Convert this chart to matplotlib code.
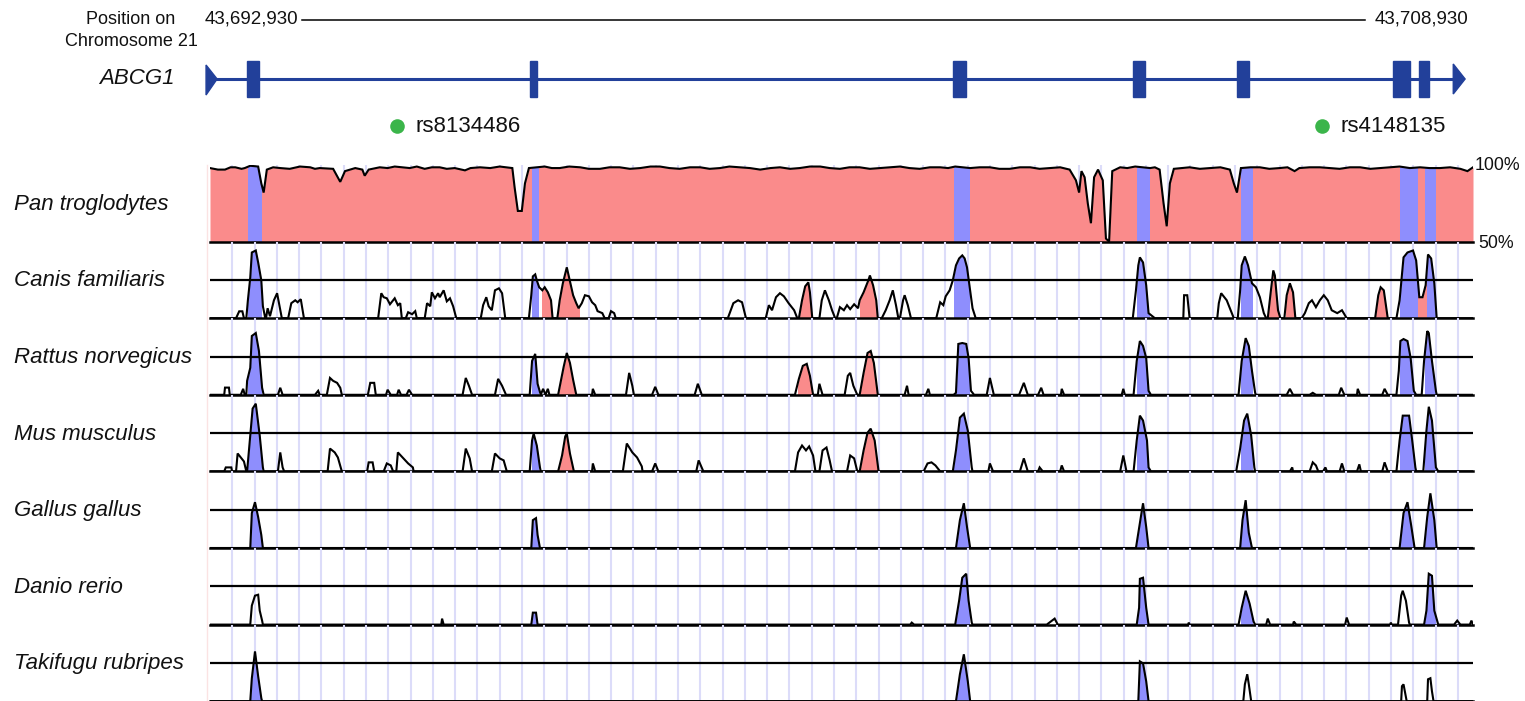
import matplotlib
matplotlib.use("Agg")
import matplotlib.pyplot as plt
from matplotlib.patches import Rectangle, Polygon

plt.rcParams['font.family'] = ['Liberation Sans', 'DejaVu Sans']

W, H = 1525, 701

# positions in kb from 43,692,930
start_label = "43,692,930"
end_label = "43,708,930"
region_kb = 16.0

# gene model of ABCG1 (kb)
gene_span = (-0.05, 15.90)
gene_exons = [(0.47, 0.62), (4.05, 4.14), (9.41, 9.58), (11.69, 11.84),
              (13.01, 13.16), (14.99, 15.20), (15.32, 15.44)]

snp_pos = [2.37, 14.09]
snp_names = ["rs8134486", "rs4148135"]

# exon columns in the conservation tracks (kb)
exon_cols = [(0.48, 0.65), (4.08, 4.15), (9.42, 9.61), (11.74, 11.89),
             (13.06, 13.20), (15.07, 15.29), (15.39, 15.52)]

species = ["Pan troglodytes", "Canis familiaris", "Rattus norvegicus",
           "Mus musculus", "Gallus gallus", "Danio rerio", "Takifugu rubripes"]

# % identity, (kb, pct) vertices; below 50% sits on the baseline
pan = [(0.00, 98), (0.10, 97), (0.19, 97), (0.26, 98.5), (0.32, 98.5), (0.40, 97.5),
       (0.44, 98), (0.51, 99.5), (0.61, 99), (0.65, 88), (0.68, 82), (0.72, 97),
       (0.80, 98.5), (0.89, 98), (1.01, 97.5), (1.14, 99), (1.27, 98.5), (1.33, 97.5),
       (1.39, 98), (1.56, 97.5), (1.65, 89), (1.71, 96), (1.84, 98), (1.93, 97),
       (1.96, 93), (2.01, 97), (2.15, 98.5), (2.25, 98), (2.34, 99), (2.43, 98.5),
       (2.53, 98), (2.62, 99), (2.72, 97.5), (2.81, 98.5), (2.91, 98.5), (3.00, 97.5),
       (3.10, 98), (3.23, 96.5), (3.30, 98), (3.42, 98.5), (3.55, 98), (3.67, 99),
       (3.83, 98), (3.86, 85), (3.90, 70), (3.95, 70), (3.99, 88), (4.04, 98),
       (4.14, 98.5), (4.24, 99), (4.33, 98), (4.43, 98), (4.55, 99), (4.69, 98.5),
       (4.80, 97.5), (4.94, 97.5), (5.06, 98.5), (5.19, 98.5), (5.32, 97.5),
       (5.45, 98), (5.58, 99), (5.70, 99), (5.82, 98), (5.95, 97.5), (6.08, 98.5),
       (6.21, 98.5), (6.33, 97.5), (6.46, 98), (6.58, 99), (6.71, 98.5), (6.84, 98),
       (6.97, 97), (7.10, 98), (7.22, 98.5), (7.35, 97.5), (7.47, 98), (7.60, 99),
       (7.73, 99), (7.85, 98), (7.98, 97.5), (8.10, 98.5), (8.23, 98.5), (8.36, 97.5),
       (8.49, 98), (8.61, 98.5), (8.74, 99), (8.86, 98), (8.99, 97.5), (9.12, 98.5),
       (9.25, 98.5), (9.35, 98), (9.44, 99), (9.53, 98.5), (9.63, 98), (9.75, 98.5),
       (9.88, 98.5), (10.00, 97.5), (10.13, 97.5), (10.26, 98.5), (10.39, 98.5),
       (10.51, 97.5), (10.64, 98), (10.77, 98.5), (10.89, 97), (10.97, 90),
       (11.01, 82), (11.04, 96), (11.08, 92), (11.12, 75), (11.16, 62), (11.20, 92),
       (11.25, 97), (11.31, 90), (11.35, 52), (11.39, 50), (11.43, 96), (11.53, 98.5),
       (11.62, 98), (11.72, 99), (11.82, 98.5), (11.91, 98), (11.97, 98.5), (12.03, 97),
       (12.08, 75), (12.12, 60), (12.16, 88), (12.21, 97.5), (12.31, 98), (12.41, 98.5),
       (12.54, 97.5), (12.67, 98), (12.80, 98.5), (12.92, 97), (12.97, 88), (13.01, 82),
       (13.06, 98), (13.18, 98.5), (13.30, 98.5), (13.42, 97.5), (13.55, 98),
       (13.65, 98.5), (13.74, 96), (13.80, 98), (13.93, 98.5), (14.06, 98.5),
       (14.18, 98), (14.31, 97.5), (14.44, 98.5), (14.57, 98.5), (14.70, 97.5),
       (14.82, 98), (14.95, 98.5), (15.07, 99), (15.20, 98), (15.33, 98.5), (15.45, 98),
       (15.58, 98), (15.71, 98.5), (15.84, 97.5), (15.93, 96), (16.00, 98.5)]

canis = [(0.00, 50), (0.33, 50), (0.37, 54.5), (0.41, 54.5), (0.43, 50),
         (0.46, 50), (0.48, 61.7), (0.51, 76.6), (0.53, 92.9), (0.58, 94.2), (0.61, 86.4),
         (0.65, 74.7), (0.67, 57.8), (0.70, 50), (0.71, 50), (0.73, 56.5), (0.76, 51.3),
         (0.81, 61.7), (0.85, 66.3), (0.89, 55.2), (0.91, 50),
         (0.99, 50), (1.03, 59.8), (1.08, 61.7), (1.11, 60.4), (1.15, 62.4), (1.19, 50),
         (2.13, 50), (2.17, 66.3), (2.20, 63.7), (2.24, 63), (2.28, 59.1), (2.32, 61.7),
         (2.34, 63), (2.38, 58.5), (2.41, 59.8), (2.43, 50),
         (2.48, 50), (2.51, 53.9), (2.56, 52.6), (2.60, 54.6), (2.62, 50),
         (2.72, 50), (2.75, 59.8), (2.79, 57.8), (2.81, 66.9), (2.85, 63), (2.89, 66.3),
         (2.91, 63.7), (2.96, 68.2), (3.00, 61), (3.04, 63), (3.08, 57.8), (3.12, 50),
         (3.43, 50), (3.46, 58.5), (3.50, 63.7), (3.53, 57.8), (3.57, 55.2), (3.61, 68.2),
         (3.66, 69.5), (3.70, 66.3), (3.74, 50),
         (4.04, 50), (4.07, 65), (4.09, 77.3), (4.12, 78.6), (4.14, 74.7), (4.17, 70.2),
         (4.21, 68.2), (4.24, 70.2), (4.28, 66.9), (4.32, 61.7), (4.34, 50),
         (4.40, 50), (4.43, 61.7), (4.47, 72.8), (4.52, 83.2), (4.56, 74), (4.60, 65),
         (4.64, 59.8), (4.67, 56.5), (4.71, 59.8), (4.75, 65), (4.80, 64.3), (4.84, 60.4),
         (4.88, 58.5), (4.91, 54.6), (4.97, 53.3), (5.00, 50),
         (5.05, 50), (5.08, 54.6), (5.12, 53.3), (5.14, 50),
         (6.56, 50), (6.63, 59.8), (6.69, 61.7), (6.74, 60.4), (6.79, 50),
         (7.04, 50), (7.08, 58.5), (7.12, 55.2), (7.17, 63.7), (7.22, 66.3), (7.27, 64.3),
         (7.33, 59.8), (7.40, 55.2), (7.44, 50),
         (7.46, 50), (7.50, 61.7), (7.54, 70.8), (7.58, 73.4), (7.60, 66.9), (7.63, 50),
         (7.72, 50), (7.75, 61.7), (7.79, 68.2), (7.84, 61.7), (7.88, 55.2), (7.92, 50),
         (7.94, 50), (7.98, 57.2), (8.03, 55.2), (8.07, 58.5), (8.11, 55.9), (8.16, 59.1),
         (8.21, 56.5), (8.23, 61.7), (8.28, 66.9), (8.34, 74.7), (8.36, 77.9), (8.40, 71.5),
         (8.44, 61.7), (8.46, 50),
         (8.51, 50), (8.56, 55.2), (8.61, 61.7), (8.65, 68.2), (8.69, 58.5), (8.72, 50),
         (8.74, 50), (8.78, 61.7), (8.80, 65), (8.84, 58.5), (8.88, 50),
         (9.20, 50), (9.25, 60.4), (9.29, 58.5), (9.32, 64.3), (9.37, 68.2), (9.41, 74.7),
         (9.45, 84.5), (9.49, 89), (9.53, 91), (9.56, 89), (9.59, 83.2), (9.63, 68.2),
         (9.66, 56.5), (9.70, 50),
         (11.69, 50), (11.73, 68.2), (11.76, 84.5), (11.78, 89.7), (11.82, 86.4),
         (11.86, 71.5), (11.89, 53.3), (11.97, 50),
         (12.33, 50), (12.34, 65), (12.38, 65), (12.41, 50),
         (12.76, 50), (12.78, 59.8), (12.81, 66.3), (12.84, 64.3), (12.88, 61.7),
         (12.93, 55.2), (12.97, 50),
         (13.02, 50), (13.05, 68.2), (13.07, 84.5), (13.11, 90.3), (13.15, 84.5),
         (13.20, 72.8), (13.25, 70.2), (13.30, 63.7), (13.35, 53.3), (13.38, 50),
         (13.40, 50), (13.44, 68.2), (13.47, 81.2), (13.49, 77.9), (13.53, 55.2), (13.56, 50),
         (13.61, 50), (13.64, 65), (13.68, 72.8), (13.72, 66.9), (13.75, 50),
         (13.83, 50), (13.87, 53.3), (13.92, 59.8), (13.96, 61.7), (14.01, 57.2),
         (14.06, 61.7), (14.11, 65), (14.16, 61.7), (14.21, 55.2), (14.28, 53.3),
         (14.34, 55.2), (14.40, 50),
         (14.76, 50), (14.80, 65), (14.83, 70.2), (14.87, 68.2), (14.92, 50),
         (15.03, 50), (15.07, 61.7), (15.12, 89.7), (15.17, 92.9), (15.24, 94.2),
         (15.28, 87.7), (15.32, 63.7), (15.36, 63.7), (15.40, 71.5), (15.43, 91.6),
         (15.47, 89), (15.51, 72.8), (15.54, 50), (16.00, 50)]

rattus = [(0.00, 50), (0.18, 50), (0.19, 54.7), (0.24, 54.7), (0.25, 50),
          (0.39, 50), (0.42, 53.9), (0.44, 50),
          (0.46, 50), (0.47, 59.1), (0.51, 67.6), (0.53, 88.4), (0.58, 90.3), (0.62, 78.6),
          (0.66, 54.6), (0.68, 50),
          (0.86, 50), (0.89, 54.6), (0.92, 50), (1.33, 50), (1.37, 52.6), (1.39, 50),
          (1.48, 50), (1.52, 61), (1.56, 59.1), (1.61, 57.8), (1.65, 54.6), (1.67, 50),
          (2.00, 50), (2.03, 57.8), (2.08, 57.8), (2.10, 50),
          (2.23, 50), (2.25, 53.3), (2.29, 50), (2.37, 50), (2.39, 53.3), (2.42, 50),
          (2.49, 50), (2.52, 53.3), (2.56, 50),
          (3.20, 50), (3.24, 61), (3.28, 55.9), (3.32, 50),
          (3.61, 50), (3.65, 60.4), (3.70, 55.9), (3.75, 50),
          (4.05, 50), (4.08, 72.1), (4.12, 76.7), (4.15, 57.2), (4.19, 50), (4.22, 53.9),
          (4.25, 50), (4.28, 53.9), (4.30, 50),
          (4.41, 50), (4.44, 57.8), (4.48, 68.2), (4.52, 77.3), (4.56, 70.8), (4.60, 59.8),
          (4.64, 50),
          (4.84, 50), (4.85, 53.9), (4.88, 50),
          (5.27, 50), (5.31, 64.3), (5.35, 55.9), (5.37, 50),
          (5.60, 50), (5.64, 55.2), (5.68, 50), (6.14, 50), (6.18, 57.2), (6.23, 50),
          (7.41, 50), (7.46, 60.4), (7.51, 68.9), (7.56, 70.2), (7.60, 62.4), (7.64, 50),
          (7.70, 50), (7.72, 57.2), (7.76, 50),
          (8.04, 50), (8.08, 62.4), (8.11, 64.3), (8.15, 55.9), (8.20, 50),
          (8.23, 50), (8.28, 64.3), (8.33, 77.3), (8.37, 78.6), (8.41, 70.8), (8.46, 50),
          (8.80, 50), (8.83, 55.9), (8.85, 50), (9.07, 50), (9.10, 53.9), (9.12, 50),
          (9.42, 50), (9.45, 51.3), (9.48, 83.2), (9.53, 83.8), (9.58, 83.2), (9.61, 74),
          (9.64, 52.6), (9.68, 50),
          (9.84, 50), (9.88, 61), (9.93, 50), (10.25, 50), (10.31, 57.8), (10.36, 50),
          (10.49, 50), (10.53, 54.6), (10.56, 50), (10.78, 50), (10.79, 53.9), (10.82, 50),
          (11.55, 50), (11.57, 53.9), (11.59, 50),
          (11.70, 50), (11.74, 72.1), (11.78, 85.1), (11.82, 81.9), (11.86, 74),
          (11.89, 52.6), (11.92, 50),
          (13.03, 50), (13.07, 72.1), (13.12, 87), (13.16, 81.9), (13.20, 65.6),
          (13.24, 51.3), (13.25, 50),
          (13.64, 50), (13.68, 53.9), (13.72, 50), (13.93, 50), (13.97, 51.3), (14.01, 50),
          (14.30, 50), (14.33, 54.6), (14.37, 50), (14.53, 50), (14.54, 53.9), (14.57, 50),
          (14.85, 50), (14.88, 53.9), (14.92, 50),
          (15.03, 50), (15.06, 65.6), (15.08, 85.1), (15.12, 86.4), (15.17, 85.1),
          (15.21, 74), (15.25, 52.6), (15.28, 50),
          (15.35, 50), (15.38, 72.1), (15.42, 91.6), (15.44, 90.3), (15.48, 72.1),
          (15.53, 52.6), (15.54, 50), (16.00, 50)]

mus = [(0.00, 50), (0.18, 50), (0.20, 52.6), (0.27, 52.6), (0.28, 50),
       (0.33, 50), (0.35, 61.7), (0.39, 59.1), (0.43, 56.5), (0.46, 50),
       (0.47, 50), (0.51, 73.4), (0.54, 91), (0.58, 94.2), (0.63, 73.4), (0.67, 52.6),
       (0.68, 50),
       (0.86, 50), (0.89, 62.4), (0.92, 52.6), (0.94, 50),
       (1.49, 50), (1.52, 64.9), (1.58, 62.4), (1.62, 59.1), (1.67, 50),
       (1.99, 50), (2.01, 55.9), (2.06, 55.9), (2.08, 50),
       (2.20, 50), (2.24, 55.2), (2.29, 53.9), (2.32, 50),
       (2.36, 50), (2.38, 62.4), (2.44, 59.1), (2.51, 55.2), (2.57, 52.6), (2.58, 50),
       (3.20, 50), (3.24, 64.9), (3.29, 58.5), (3.32, 50),
       (3.57, 50), (3.61, 61.7), (3.67, 58.5), (3.72, 57.2), (3.76, 50),
       (4.05, 50), (4.08, 70.2), (4.10, 74.7), (4.14, 66.9), (4.18, 52.6), (4.19, 50),
       (4.41, 50), (4.46, 60.4), (4.50, 72.8), (4.52, 74.7), (4.56, 61.7), (4.61, 50),
       (4.84, 50), (4.85, 55.2), (4.88, 50),
       (5.23, 50), (5.28, 68.2), (5.35, 62.4), (5.41, 59.1), (5.47, 53.3), (5.48, 50),
       (5.60, 50), (5.64, 55.2), (5.68, 50), (6.16, 50), (6.19, 57.2), (6.25, 50),
       (7.41, 50), (7.45, 62.4), (7.50, 66.9), (7.55, 63.7), (7.59, 66.3), (7.64, 60.4),
       (7.67, 50),
       (7.72, 50), (7.76, 63.7), (7.81, 65.6), (7.85, 57.2), (7.88, 50),
       (8.07, 50), (8.11, 60.4), (8.16, 58.5), (8.20, 50),
       (8.23, 50), (8.28, 63.7), (8.33, 75.3), (8.37, 77.9), (8.42, 70.2), (8.47, 50),
       (9.04, 50), (9.09, 55.2), (9.14, 55.9), (9.19, 53.9), (9.25, 50),
       (9.41, 50), (9.45, 63.7), (9.50, 85.1), (9.55, 87.7), (9.60, 76.6), (9.65, 52.6),
       (9.66, 50),
       (9.86, 50), (9.88, 55.2), (9.92, 50), (10.26, 50), (10.31, 58.5), (10.36, 50),
       (10.49, 50), (10.51, 52.6), (10.55, 50), (10.77, 50), (10.79, 53.9), (10.82, 50),
       (11.53, 50), (11.57, 60.4), (11.61, 50),
       (11.70, 50), (11.74, 70.2), (11.78, 86.4), (11.82, 83.2), (11.87, 70.2),
       (11.89, 52.6), (11.92, 50),
       (13.00, 50), (13.05, 64.9), (13.10, 83.2), (13.14, 87.7), (13.19, 73.4),
       (13.23, 52.6), (13.24, 50),
       (13.68, 50), (13.71, 52.6), (13.72, 50),
       (13.93, 50), (13.97, 55.9), (14.01, 53.9), (14.04, 50),
       (14.10, 50), (14.13, 52.6), (14.15, 50), (14.31, 50), (14.34, 55.2), (14.37, 50),
       (14.53, 50), (14.56, 54.6), (14.58, 50), (14.85, 50), (14.88, 55.9), (14.92, 50),
       (15.03, 50), (15.07, 70.2), (15.11, 86.4), (15.19, 86.4), (15.23, 70.2),
       (15.27, 52.6), (15.28, 50),
       (15.37, 50), (15.41, 76.6), (15.44, 92.2), (15.48, 83.2), (15.53, 52.6),
       (15.56, 50), (16.00, 50)]

gallus = [(0.00, 50), (0.51, 50), (0.53, 72.8), (0.57, 79.9), (0.61, 70.2), (0.65, 58.5),
          (0.67, 50),
          (4.07, 50), (4.09, 68.2), (4.13, 69.5), (4.15, 58.5), (4.18, 50),
          (9.45, 50), (9.50, 68.2), (9.55, 79.2), (9.59, 63.7), (9.63, 50),
          (11.73, 50), (11.78, 66.3), (11.82, 79.2), (11.86, 63.7), (11.89, 50),
          (13.05, 50), (13.08, 68.2), (13.12, 81.2), (13.16, 59.8), (13.20, 50),
          (15.07, 50), (15.12, 72.8), (15.17, 79.9), (15.22, 63.7), (15.26, 50),
          (15.38, 50), (15.42, 70.2), (15.46, 85.7), (15.51, 68.2), (15.54, 50),
          (16.00, 50)]

danio = [(0.00, 50), (0.51, 50), (0.53, 62.4), (0.57, 68.9), (0.61, 69.5), (0.63, 59.1),
         (0.66, 52.6), (0.67, 50),
         (2.93, 50), (2.94, 53.9), (2.96, 50),
         (4.07, 50), (4.09, 57.8), (4.13, 57.8), (4.15, 50),
         (8.87, 50), (8.89, 51.3), (8.92, 50),
         (9.44, 50), (9.49, 65.6), (9.53, 80.6), (9.58, 83.2), (9.61, 65.6), (9.65, 51.3),
         (9.66, 50),
         (10.60, 50), (10.70, 53.9), (10.74, 50),
         (11.74, 50), (11.77, 61), (11.78, 79.9), (11.82, 80.6), (11.86, 61), (11.89, 50),
         (12.39, 50), (12.40, 51.3), (12.41, 50),
         (13.03, 50), (13.07, 61), (13.12, 72.1), (13.17, 63.7), (13.22, 52), (13.24, 50),
         (13.38, 50), (13.40, 53.9), (13.43, 50), (13.72, 50), (13.73, 52), (13.76, 50),
         (14.38, 50), (14.40, 54.6), (14.43, 50), (14.95, 50), (14.96, 51.3), (14.97, 50),
         (15.05, 50), (15.09, 68.9), (15.11, 72.1), (15.15, 65.6), (15.19, 51.3),
         (15.20, 50),
         (15.38, 50), (15.41, 59.1), (15.44, 83.2), (15.48, 81.9), (15.51, 59.1),
         (15.56, 50),
         (15.76, 50), (15.80, 52.6), (15.84, 50), (15.96, 50), (15.98, 52.6), (16.00, 50)]

takifugu = [(0.00, 50), (0.51, 50), (0.53, 65), (0.57, 82.5), (0.61, 66.3), (0.65, 52),
            (0.66, 50),
            (9.45, 50), (9.50, 67.6), (9.55, 80.6), (9.60, 63), (9.63, 50),
            (11.76, 50), (11.78, 76), (11.82, 74.7), (11.86, 63), (11.89, 50),
            (13.09, 50), (13.11, 61), (13.14, 67.6), (13.16, 61), (13.19, 50),
            (15.09, 50), (15.10, 59.8), (15.12, 61), (15.16, 50),
            (15.42, 50), (15.43, 64.3), (15.46, 65), (15.48, 56.5), (15.50, 50),
            (16.00, 50)]

# conserved non-coding stretches (pink) and which exon columns are coloured
canis_cns = [(4.20, 4.33), (4.41, 4.67), (7.45, 7.62), (8.23, 8.45), (13.42, 13.53),
             (13.63, 13.77), (14.77, 14.94), (15.30, 15.40)]
rattus_cns = [(4.41, 4.64), (7.45, 7.64), (8.23, 8.46)]
mus_cns = [(4.41, 4.61), (8.23, 8.47)]
all_exons = [0, 1, 2, 3, 4, 5, 6]
danio_exons = [1, 2, 3, 4, 6]
takifugu_exons = [0, 2, 3]

threshold = 75

tracks = [
    (pan, None, all_exons),
    (canis, canis_cns, all_exons),
    (rattus, rattus_cns, all_exons),
    (mus, mus_cns, all_exons),
    (gallus, [], all_exons),
    (danio, [], danio_exons),
    (takifugu, [], takifugu_exons),
]

PINK = "#FA8B8B"
BLUE = "#8E8EFD"
GENE = "#22409A"
GRID = "#DCDCF9"

fig = plt.figure(figsize=(W / 100, H / 100), dpi=100)

# full-figure pixel axes for labels
base = fig.add_axes([0, 0, 1, 1])
base.set_xlim(0, W)
base.set_ylim(H, 0)
base.axis("off")

x0, x1 = 210, 1473
track_top, track_h = 165, 76.6

base.plot([207, 207], [track_top, H], color="#FBE3E3", lw=1)

for i, (pts, cns, ex_idx) in enumerate(tracks):
    top = track_top + i * track_h
    ax = fig.add_axes([x0 / W, 1 - (top + track_h) / H, (x1 - x0) / W, track_h / H])
    ax.set_xlim(0, region_kb)
    ax.set_ylim(50, 100)
    ax.axis("off")

    k = 1
    while k * 0.2823 < region_kb:
        ax.axvline(k * 0.2823, color=GRID, lw=1.5, zorder=0)
        k += 1

    xs = [p[0] for p in pts]
    ys = [p[1] for p in pts]

    spans = [(exon_cols[j], BLUE) for j in ex_idx]
    if cns is None:
        ax.fill_between(xs, 50, ys, color=PINK, lw=0, zorder=1)
    else:
        spans += [(c, PINK) for c in cns]
    for (a, b), col in spans:
        poly = ax.fill_between(xs, 50, ys, color=col, lw=0, zorder=2)
        poly.set_clip_path(Rectangle((a, 40), b - a, 70, transform=ax.transData))

    ax.plot(xs, ys, color="black", lw=1.5, zorder=3, solid_joinstyle="miter")
    ax.axhline(50, color="black", lw=1.8, zorder=4, clip_on=False)
    if i > 0:
        ax.axhline(threshold, color="black", lw=1.6, zorder=4)

    base.text(14, top + track_h / 2 + 1, species[i], fontsize=16, style="italic",
              ha="left", va="center", color="#111111")

base.text(1475, 166, "100%", fontsize=12.8, ha="left", va="center", color="#111111")
base.text(1478, 243, "50%", fontsize=12.8, ha="left", va="center", color="#111111")

# position ruler
base.text(131, 19, "Position on", fontsize=13, ha="center", va="center", color="#111111")
base.text(131, 41, "Chromosome 21", fontsize=13, ha="center", va="center", color="#111111")
base.text(205, 19, start_label, fontsize=13.5, ha="left", va="center", color="#111111")
base.text(1468, 19, end_label, fontsize=13.5, ha="right", va="center", color="#111111")
base.plot([302, 1365], [20, 20], color="black", lw=1.1)

# gene model
gax = fig.add_axes([x0 / W, 1 - 150 / H, (x1 - x0) / W, 150 / H])
gax.set_xlim(0, region_kb)
gax.set_ylim(150, 0)
gax.axis("off")
gy = 79
gax.plot([gene_span[0] + 0.1, gene_span[1] - 0.1], [gy, gy], color=GENE, lw=2.2,
         clip_on=False)
gax.add_patch(Polygon([(gene_span[0], 65), (gene_span[0], 95), (gene_span[0] + 0.14, gy)],
                      closed=True, color=GENE, clip_on=False))
gax.add_patch(Polygon([(gene_span[1] - 0.15, 64), (gene_span[1] - 0.15, 94),
                       (gene_span[1], gy)], closed=True, color=GENE, clip_on=False))
for a, b in gene_exons:
    gax.add_patch(Rectangle((a, 61), b - a, 36, color=GENE, clip_on=False))
base.text(175, 79, "ABCG1", fontsize=16, style="italic", ha="right", va="center",
          color="#111111")

for pos, name in zip(snp_pos, snp_names):
    gax.plot(pos, 126, "o", color="#3BB54A", ms=10.5, mec="none", clip_on=False)
    gax.text(pos + 0.23, 126, name, fontsize=16, ha="left", va="center", color="#111111")

fig.savefig("out.png", dpi=100)
